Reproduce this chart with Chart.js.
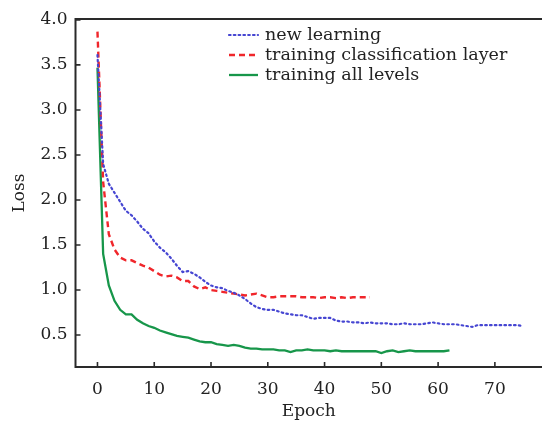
<!DOCTYPE html>
<html><head><meta charset="utf-8">
<script src="https://cdn.jsdelivr.net/npm/chart.js@4.4.0/dist/chart.umd.min.js"></script>
<style>html,body{margin:0;padding:0;background:#fff;}</style>
</head><body>
<canvas id="c" width="542" height="422"></canvas>
<script>
const seriesNames = ['new learning', 'training classification layer', 'training all levels'];
const newLearning = [3.61,2.40,2.18,2.08,1.98,1.88,1.83,1.76,1.68,1.63,1.54,1.47,1.42,1.35,1.27,1.20,1.21,1.18,1.14,1.09,
  1.05,1.03,1.02,0.99,0.97,0.94,0.90,0.85,0.81,0.79,0.78,0.78,0.76,0.74,0.73,0.72,0.72,0.70,0.68,0.69,
  0.69,0.69,0.66,0.65,0.65,0.64,0.64,0.63,0.64,0.63,0.63,0.63,0.62,0.62,0.63,0.62,0.62,0.62,0.63,0.64,
  0.63,0.62,0.62,0.62,0.61,0.60,0.59,0.61,0.61,0.61,0.61,0.61,0.61,0.61,0.61,0.60];
const trainClassLayer = [3.87,2.20,1.62,1.45,1.36,1.33,1.33,1.30,1.27,1.25,1.21,1.17,1.15,1.16,1.14,1.10,1.10,1.04,1.01,1.03,
  1.00,0.99,0.98,0.97,0.96,0.95,0.94,0.95,0.96,0.94,0.92,0.92,0.93,0.93,0.93,0.93,0.92,0.92,0.92,0.91,
  0.92,0.92,0.91,0.92,0.91,0.92,0.92,0.92,0.92];
const trainAllLevels = [3.47,1.40,1.05,0.88,0.78,0.73,0.73,0.67,0.63,0.60,0.58,0.55,0.53,0.51,0.49,0.48,0.47,0.45,0.43,0.42,
  0.42,0.40,0.39,0.38,0.39,0.38,0.36,0.35,0.35,0.34,0.34,0.34,0.33,0.33,0.31,0.33,0.33,0.34,0.33,0.33,
  0.33,0.32,0.33,0.32,0.32,0.32,0.32,0.32,0.32,0.32,0.30,0.32,0.33,0.31,0.32,0.33,0.32,0.32,0.32,0.32,
  0.32,0.32,0.33];
const xTicks = [0,10,20,30,40,50,60,70];
const yTicks = [0.5,1.0,1.5,2.0,2.5,3.0,3.5,4.0];

const toPts = arr => arr.map((v,i)=>({x:i,y:v}));
const FONT = "'DejaVu Serif', serif";
const AX = '#2a2a2a';

const styles = [
  {color:'#4646d2', dash:[1.6,3.2], width:2.2, cap:'round'},
  {color:'#f0262b', dash:[6,4], width:2.4, cap:'butt'},
  {color:'#17964a', dash:[], width:2.3, cap:'butt'}
];
const seriesData = [newLearning, trainClassLayer, trainAllLevels];

const framePlugin = {
  id:'frame',
  afterDraw(chart){
    const {ctx, chartArea:a, scales} = chart;
    ctx.save();
    ctx.strokeStyle = AX; ctx.lineWidth = 2;
    ctx.beginPath();
    ctx.moveTo(a.left, a.top); ctx.lineTo(a.right, a.top);
    ctx.moveTo(a.left, a.top-1); ctx.lineTo(a.left, a.bottom+1);
    ctx.moveTo(a.left-1, a.bottom); ctx.lineTo(a.right, a.bottom);
    ctx.stroke();
    ctx.lineWidth = 1.6;
    ctx.beginPath();
    xTicks.forEach(v=>{const x=scales.x.getPixelForValue(v); ctx.moveTo(x,a.bottom); ctx.lineTo(x,a.bottom-5);});
    yTicks.forEach(v=>{const y=scales.y.getPixelForValue(v); ctx.moveTo(a.left,y); ctx.lineTo(a.left+5,y);});
    ctx.stroke();
    // legend
    const rows = [35,55,75];
    seriesNames.forEach((name,i)=>{
      const s = styles[i];
      ctx.save();
      ctx.strokeStyle = s.color; ctx.lineWidth = s.width; ctx.lineCap = s.cap; ctx.setLineDash(s.dash);
      ctx.beginPath(); ctx.moveTo(229, rows[i]); ctx.lineTo(258, rows[i]); ctx.stroke();
      ctx.restore();
      ctx.fillStyle = '#222'; ctx.font = "17.5px " + FONT; ctx.textBaseline = 'middle'; ctx.textAlign='left';
      ctx.fillText(name, 265, rows[i]);
    });
    ctx.restore();
  }
};

new Chart(document.getElementById('c'), {
  type:'line',
  data:{
    datasets: seriesData.map((d,i)=>({
      label: seriesNames[i],
      data: toPts(d),
      borderColor: styles[i].color,
      borderWidth: styles[i].width,
      borderDash: styles[i].dash,
      borderCapStyle: styles[i].cap,
      pointRadius:0,
      tension:0,
      fill:false
    }))
  },
  options:{
    responsive:false, animation:false, devicePixelRatio:1,
    layout:{padding:{top:19,right:0,left:0,bottom:0}},
    plugins:{legend:{display:false}, tooltip:{enabled:false}},
    scales:{
      x:{type:'linear', min:-3.87, max:78.3,
        afterBuildTicks:s=>{s.ticks = xTicks.map(v=>({value:v}));},
        afterFit:s=>{s.height = 55;},
        grid:{display:false, drawTicks:false}, border:{display:false},
        ticks:{color:'#222', font:{family:FONT,size:17}, padding:12, maxRotation:0, autoSkip:false,
          callback:v=>String(v)},
        title:{display:true, text:'Epoch', color:'#222', font:{family:FONT,size:17}, padding:{top:0,bottom:0}}
      },
      y:{type:'linear', min:0.145, max:4.01,
        afterBuildTicks:s=>{s.ticks = yTicks.map(v=>({value:v}));},
        afterFit:s=>{s.width = 75.5;},
        grid:{display:false, drawTicks:false}, border:{display:false},
        ticks:{color:'#222', font:{family:FONT,size:17}, padding:8, autoSkip:false,
          callback:v=>Number(v).toFixed(1)},
        title:{display:true, text:'Loss', color:'#222', font:{family:FONT,size:17}, padding:{top:9,bottom:0}}
      }
    }
  },
  plugins:[framePlugin]
});
</script>
</body></html>
